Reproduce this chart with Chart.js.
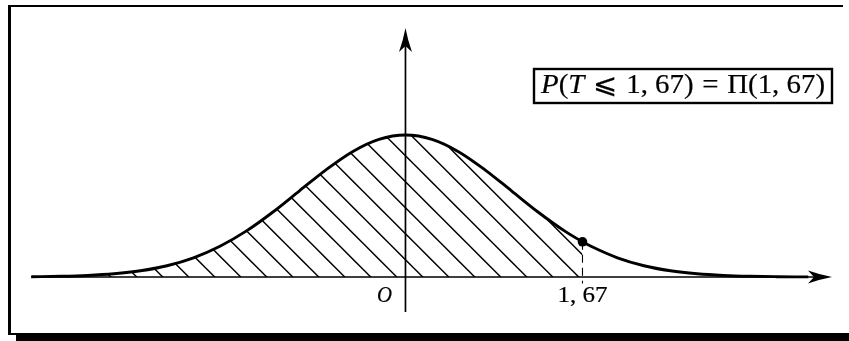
<!DOCTYPE html>
<html>
<head>
<meta charset="utf-8">
<script src="https://cdn.jsdelivr.net/npm/chart.js@4/dist/chart.umd.min.js"></script>
<style>
html,body{margin:0;padding:0;background:#fff;}
canvas{display:block;}
</style>
</head>
<body>
<canvas id="c" width="849" height="341"></canvas>
<script>
// ---- data ----
const xValues = [-3.53, -3.25, -3, -2.75, -2.5, -2.25, -2, -1.75, -1.5, -1.25, -1, -0.75, -0.5, -0.25, 0,
                 0.25, 0.5, 0.75, 1, 1.25, 1.5, 1.67, 1.75, 2, 2.25, 2.5, 2.75, 3, 3.25, 3.5, 3.8];
const density = [0.0008, 0.0020, 0.0044, 0.0091, 0.0175, 0.0317, 0.0540, 0.0863, 0.1295, 0.1826, 0.2420, 0.3011, 0.3521, 0.3867, 0.3989,
                 0.3867, 0.3521, 0.3011, 0.2420, 0.1826, 0.1295, 0.0989, 0.0863, 0.0540, 0.0317, 0.0175, 0.0091, 0.0044, 0.0020, 0.0009, 0.0003];
const markX = 1.67;
const markY = 0.0989;
const tickValues = [0, 1.67];
const tickLabels = ['O', '1, 67'];
// label parts: text, italic flag, extra gap after (em)
const boxParts = [
  {t:'P', i:true, g:0}, {t:'(', i:false, g:0}, {t:'T', i:true, g:0.3},
  {t:'\u2A7D', i:false, g:0.3}, {t:'1, 67)', i:false, g:0.3},
  {t:'=', i:false, g:0.3}, {t:'\u03A0(1, 67)', i:false, g:0}
];

// ---- build ----
const curvePts = xValues.map((x, k) => ({x: x, y: density[k]}));
const hatchPts = curvePts.filter(p => p.x <= markX);
const SERIF = '"Liberation Serif", "Times New Roman", "DejaVu Serif", serif';

function makeHatch() {
  const s = 26;
  const c = document.createElement('canvas');
  c.width = s; c.height = s;
  const g = c.getContext('2d');
  g.strokeStyle = '#000';
  g.lineWidth = 1.5;
  const off = 15.7;
  g.beginPath();
  for (let k = -2; k <= 1; k++) {
    const x0 = off + k * s;
    g.moveTo(x0 - 4, -4);
    g.lineTo(x0 + s + 4, s + 4);
  }
  g.stroke();
  return document.getElementById('c').getContext('2d').createPattern(c, 'repeat');
}

function arrowHead(ctx, tx, ty, dx, dy) {
  const L = 24, W = 6.5, B = 6;
  const px = -dy, py = dx;
  ctx.beginPath();
  ctx.moveTo(tx, ty);
  ctx.quadraticCurveTo(tx - dx*L*0.5 + px*W*0.35, ty - dy*L*0.5 + py*W*0.35, tx - dx*L + px*W, ty - dy*L + py*W);
  ctx.lineTo(tx - dx*(L-B), ty - dy*(L-B));
  ctx.lineTo(tx - dx*L - px*W, ty - dy*L - py*W);
  ctx.quadraticCurveTo(tx - dx*L*0.5 - px*W*0.35, ty - dy*L*0.5 - py*W*0.35, tx, ty);
  ctx.closePath();
  ctx.fill();
}

// draw a run of text parts, stretched horizontally to a target width
function drawFitted(ctx, parts, left, baseline, width, size) {
  let total = 0;
  parts.forEach(p => {
    ctx.font = (p.i ? 'italic ' : '') + size + 'px ' + SERIF;
    total += ctx.measureText(p.t).width + (p.g || 0) * size;
  });
  const s = width / total;
  ctx.save();
  ctx.translate(left, baseline);
  ctx.scale(s, 1);
  ctx.textAlign = 'left';
  ctx.textBaseline = 'alphabetic';
  ctx.lineWidth = 0.2;
  ctx.strokeStyle = '#000';
  let cx = 0;
  parts.forEach(p => {
    ctx.font = (p.i ? 'italic ' : '') + size + 'px ' + SERIF;
    ctx.fillText(p.t, cx, 0);
    ctx.strokeText(p.t, cx, 0);
    cx += ctx.measureText(p.t).width + (p.g || 0) * size;
  });
  ctx.restore();
}

const decor = {
  id: 'decor',
  beforeDatasetsDraw(chart) {
    const ctx = chart.ctx, a = chart.chartArea;
    const xs = chart.scales.x, ys = chart.scales.y;
    const y0 = ys.getPixelForValue(0), x0 = xs.getPixelForValue(0);
    ctx.save();
    ctx.strokeStyle = '#000'; ctx.fillStyle = '#000'; ctx.lineWidth = 1.7;
    ctx.beginPath();
    ctx.moveTo(a.left, y0); ctx.lineTo(a.right - 10, y0);
    ctx.moveTo(x0, a.bottom); ctx.lineTo(x0, a.top + 10);
    ctx.stroke();
    arrowHead(ctx, a.right, y0, 1, 0);
    arrowHead(ctx, x0, a.top, 0, -1);
    ctx.restore();
  },
  afterDraw(chart) {
    const ctx = chart.ctx;
    const xs = chart.scales.x, ys = chart.scales.y;
    const y0 = ys.getPixelForValue(0);
    ctx.save();
    ctx.fillStyle = '#000';
    // frame
    ctx.fillRect(8, 5, 835, 2);
    ctx.fillRect(8, 5, 3, 330);
    ctx.fillRect(8, 333, 841, 2);
    ctx.fillRect(16, 335, 833, 6);
    // tick labels
    tickValues.forEach((v, k) => {
      const px = xs.getPixelForValue(v);
      if (tickLabels[k] === 'O') {
        drawFitted(ctx, [{t: tickLabels[k], i: true}], px - 28.5, y0 + 25, 15, 24);
      } else {
        drawFitted(ctx, [{t: tickLabels[k], i: false}], px - 25, y0 + 25, 50, 24);
      }
    });
    // box
    const bx = 534, by = 69, bw = 298, bh = 34;
    ctx.lineWidth = 2.4;
    ctx.strokeStyle = '#000';
    ctx.strokeRect(bx, by, bw, bh);
    drawFitted(ctx, boxParts, 541, 93, 284, 27);
    ctx.restore();
  }
};

new Chart(document.getElementById('c'), {
  type: 'line',
  data: {
    datasets: [
      {
        data: curvePts, borderColor: '#000', borderWidth: 2.9, pointRadius: 0,
        cubicInterpolationMode: 'monotone', fill: false, order: 1
      },
      {
        data: hatchPts, borderWidth: 0, borderColor: 'rgba(0,0,0,0)', pointRadius: 0,
        cubicInterpolationMode: 'monotone', fill: 'origin', backgroundColor: makeHatch(), order: 3
      },
      {
        data: [{x: markX, y: markY}, {x: markX, y: -0.018}], borderColor: '#000', borderWidth: 1.1,
        borderDash: [8, 5], pointRadius: 0, fill: false, order: 2
      },
      {
        data: [{x: markX, y: markY}], showLine: false, pointRadius: 4.8, pointBackgroundColor: '#000',
        pointBorderWidth: 0, order: 0
      }
    ]
  },
  options: {
    responsive: false,
    animation: false,
    events: [],
    layout: {padding: {left: 31, right: 17, top: 28, bottom: 29}},
    plugins: {legend: {display: false}, tooltip: {enabled: false}},
    scales: {
      x: {type: 'linear', display: false, min: -3.533, max: 4.024},
      y: {type: 'linear', display: false, min: -0.0983, max: 0.6994}
    }
  },
  plugins: [decor]
});
</script>
</body>
</html>
